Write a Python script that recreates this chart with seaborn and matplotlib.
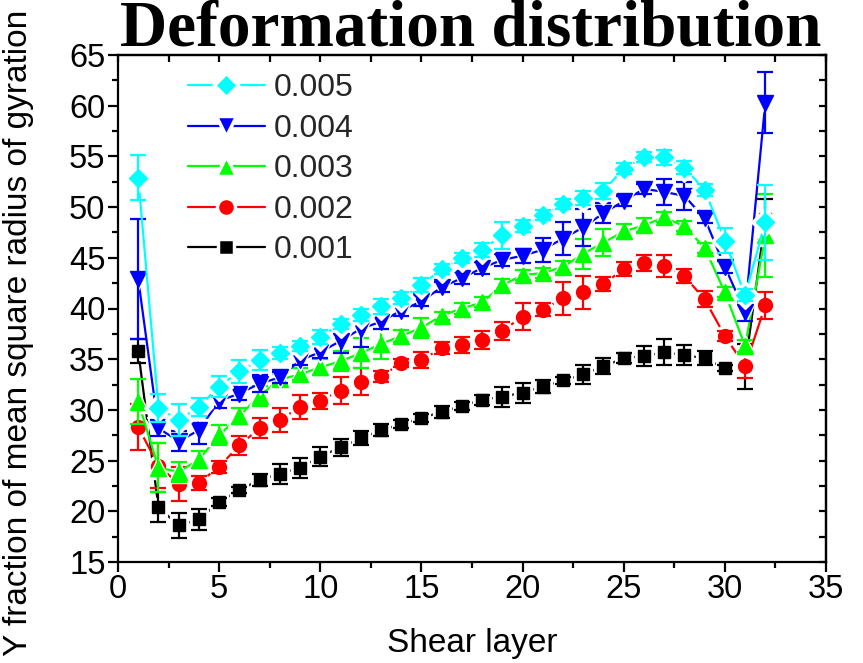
import matplotlib
matplotlib.use("Agg")
import matplotlib.pyplot as plt
from matplotlib.lines import Line2D
from matplotlib.ticker import MultipleLocator
import numpy as np
import pandas as pd
import seaborn as sns

# Shear layers
layers = list(range(1, 33))

# Y fraction of mean square radius of gyration per shear rate
y_0001 = [35.8, 20.4, 18.6, 19.2, 20.9, 22.1, 23.1, 23.7, 24.3, 25.4, 26.3, 27.2, 28.0, 28.6, 29.2, 29.8,
          30.4, 31.0, 31.3, 31.7, 32.3, 32.9, 33.5, 34.3, 35.1, 35.3, 35.7, 35.4, 35.1, 34.1, 34.3, 48.8]
e_0001 = [1.2, 1.5, 1.2, 1.0, 0.4, 0.3, 0.6, 1.0, 1.0, 0.9, 0.8, 0.7, 0.6, 0.4, 0.4, 0.6,
          0.4, 0.5, 1.0, 1.0, 0.6, 0.3, 0.9, 0.8, 0.5, 1.0, 1.3, 1.0, 0.7, 0.3, 2.2, 2.0]

y_0002 = [28.3, 24.5, 22.7, 22.8, 24.4, 26.5, 28.2, 29.0, 30.3, 30.9, 31.9, 32.8, 33.3, 34.6, 34.9, 36.1,
          36.4, 36.9, 37.8, 39.2, 39.9, 41.0, 41.6, 42.4, 43.9, 44.5, 44.2, 43.2, 40.9, 37.3, 34.3, 40.3]
e_0002 = [2.3, 2.2, 1.7, 0.7, 0.6, 0.9, 1.0, 1.2, 1.2, 0.8, 1.3, 1.3, 0.5, 0.4, 0.8, 0.6,
          0.8, 0.9, 0.9, 1.3, 0.6, 1.6, 1.6, 0.7, 0.7, 0.8, 1.1, 0.7, 0.8, 0.5, 1.2, 1.3]

y_0003 = [30.8, 24.3, 23.9, 25.1, 27.5, 29.4, 31.4, 33.0, 33.5, 34.2, 34.8, 35.6, 36.5, 37.3, 38.1, 39.3,
          40.0, 40.6, 42.3, 43.3, 43.5, 44.1, 45.4, 46.5, 47.6, 48.2, 49.0, 48.1, 46.0, 41.6, 36.3, 47.2]
e_0003 = [2.2, 2.4, 1.0, 0.8, 1.0, 0.8, 1.0, 0.5, 0.6, 0.8, 1.0, 1.5, 1.5, 0.6, 1.0, 0.4,
          0.5, 0.5, 0.6, 0.5, 0.5, 0.6, 1.5, 1.3, 0.7, 0.7, 0.5, 0.5, 0.5, 0.5, 0.6, 4.1]

y_0004 = [42.9, 28.2, 26.9, 28.0, 30.9, 31.6, 32.6, 33.2, 34.9, 35.7, 36.8, 38.0, 38.7, 39.8, 40.7, 42.1,
          43.0, 44.0, 44.8, 45.2, 45.8, 46.9, 48.0, 49.4, 50.6, 51.8, 51.5, 51.1, 48.9, 44.1, 39.7, 60.3]
e_0004 = [5.9, 0.8, 1.0, 1.4, 0.7, 0.6, 0.8, 0.5, 0.5, 0.6, 1.2, 1.8, 0.7, 0.5, 0.5, 0.5,
          0.6, 0.6, 0.6, 0.7, 1.2, 1.6, 1.8, 1.0, 0.5, 0.5, 1.3, 1.4, 0.5, 0.6, 0.9, 3.0]

y_0005 = [52.9, 30.2, 29.0, 30.3, 32.3, 33.8, 34.9, 35.6, 36.3, 37.2, 38.5, 39.4, 40.2, 41.0, 42.3, 43.9,
          45.0, 45.8, 47.2, 48.1, 49.2, 50.3, 50.9, 51.6, 53.8, 54.9, 54.9, 53.9, 51.7, 46.7, 41.3, 48.5]
e_0005 = [2.2, 1.4, 1.6, 0.9, 1.0, 1.1, 1.0, 0.6, 0.5, 0.7, 0.5, 0.6, 0.7, 0.6, 0.7, 0.5,
          0.5, 0.7, 1.3, 0.6, 0.5, 0.5, 0.7, 0.8, 0.5, 0.5, 0.7, 0.6, 0.6, 1.2, 0.6, 3.7]

series_labels = ["0.001", "0.002", "0.003", "0.004", "0.005"]
series_values = [y_0001, y_0002, y_0003, y_0004, y_0005]
series_errors = [e_0001, e_0002, e_0003, e_0004, e_0005]
colors = ["#000000", "#ff0000", "#00ff00", "#0000ff", "#00ffff"]
markers = ["s", "o", "^", "v", "D"]
msizes = [8, 10, 11, 11, 9.5]

sns.set_theme(style="white")
plt.rcParams["font.family"] = ["Liberation Sans", "DejaVu Sans"]

fig = plt.figure(figsize=(8.63, 6.63), dpi=100)
ax = fig.add_axes([118 / 863, 1 - 562 / 663, 708 / 863, 507 / 663])

frames = []
for lab, vals, errs in zip(series_labels, series_values, series_errors):
    frames.append(pd.DataFrame({"layer": layers, "value": vals, "err": errs, "rate": lab}))
df = pd.concat(frames, ignore_index=True)

for k, (lab, col, mk, ms) in enumerate(zip(series_labels, colors, markers, msizes)):
    sub = df[df["rate"] == lab]
    base = 2 + k * 4
    sns.lineplot(data=sub, x="layer", y="value", color=col, lw=1.6, ax=ax,
                 zorder=base, legend=False, errorbar=None)
    # white halo around each marker leaves a small gap in the connecting line
    ax.plot(sub["layer"], sub["value"], ls="none", marker=mk, ms=ms + 5,
            mfc="white", mec="white", zorder=base + 1)
    ax.errorbar(sub["layer"], sub["value"], yerr=sub["err"], fmt="none", ecolor=col,
                elinewidth=1.6, capsize=6, capthick=1.6, zorder=base + 2)
    ax.plot(sub["layer"], sub["value"], ls="none", marker=mk, ms=ms,
            mfc=col, mec=col, zorder=base + 3)

ax.set_xlim(0, 35)
ax.set_ylim(15, 65)
ax.xaxis.set_major_locator(MultipleLocator(5))
ax.xaxis.set_minor_locator(MultipleLocator(2.5))
ax.yaxis.set_major_locator(MultipleLocator(5))
ax.yaxis.set_minor_locator(MultipleLocator(2.5))

for sp in ax.spines.values():
    sp.set_visible(True)
    sp.set_color("black")
    sp.set_linewidth(1.6)

ax.tick_params(which="both", direction="out", color="black", width=1.6,
               labelsize=23.5, labelcolor="black", pad=2,
               bottom=True, left=True, top=False, right=False)
ax.tick_params(which="major", length=7)
ax.tick_params(which="minor", length=4)

# inward ticks on the top and right frame
top = ax.secondary_xaxis("top")
top.xaxis.set_major_locator(MultipleLocator(5))
top.xaxis.set_minor_locator(MultipleLocator(2.5))
top.tick_params(which="both", direction="in", width=1.6, labeltop=False, color="black")
top.tick_params(which="major", length=5)
top.tick_params(which="minor", length=5)
right = ax.secondary_yaxis("right")
right.yaxis.set_major_locator(MultipleLocator(5))
right.yaxis.set_minor_locator(MultipleLocator(2.5))
right.tick_params(which="both", direction="in", width=1.6, labelright=False, color="black")
right.tick_params(which="major", length=5)
right.tick_params(which="minor", length=5)
for sec in (top, right):
    for sp in sec.spines.values():
        sp.set_linewidth(1.6)
        sp.set_color("black")

ax.set_xlabel("Shear layer", fontsize=24, color="black", labelpad=16)
ax.set_ylabel("Y fraction of mean square radius of gyration", fontsize=24, color="black")
ax.yaxis.set_label_coords(-0.118, 0.452)

fig.text(0.545, 1 - 46 / 663, "Deformation distribution", ha="center", va="baseline",
         fontsize=47, fontweight="bold", family=["Liberation Serif", "DejaVu Serif"],
         color="black")

handles = []
for col, mk, ms in zip(colors, markers, msizes):
    handles.append(Line2D([], [], color=col, lw=1.6, marker=mk, ms=ms + 3,
                          mfc=col, mec="white", mew=2.5))
leg = ax.legend(handles[::-1], series_labels[::-1], loc="upper left",
                bbox_to_anchor=(0.099, 0.964), frameon=False, fontsize=23,
                handlelength=2.4, handletextpad=0.28, labelspacing=0.33,
                borderaxespad=0, borderpad=0)

fig.savefig("out.png", dpi=100)
